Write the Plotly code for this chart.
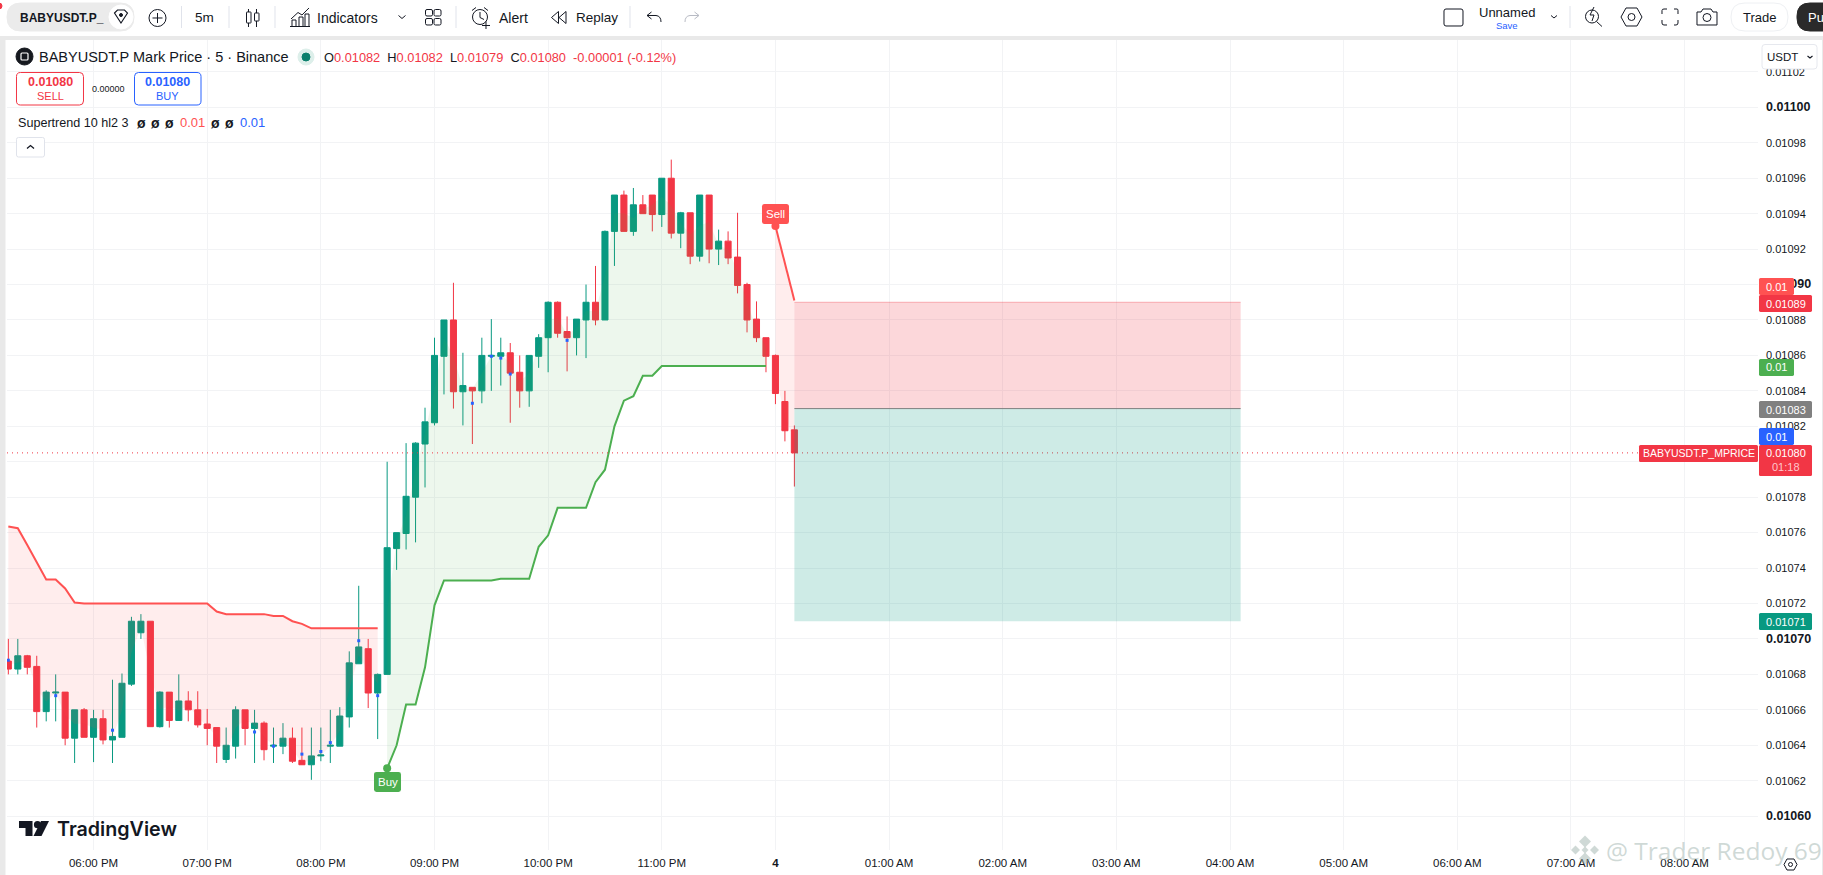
import pandas as pd
import numpy as np
import plotly.graph_objects as go

W = 1823
H = 875

RED = "#F23645"
TEAL = "#089981"
ST_RED = "#FF5252"
ST_GREEN = "#4CAF50"
BLUE = "#2962FF"
INK = "#131722"
GRID = "#F2F3F5"

# prices in units of 0.00001, 5 minute bars from 17:15
opens = [1068.75, 1068.3, 1069.05, 1068.45, 1065.9, 1066.95, 1067.0, 1064.4, 1066.0, 1064.45,
         1065.5, 1064.3, 1064.45, 1067.45, 1070.35, 1071.0, 1065.05, 1067.0, 1065.4, 1066.5,
         1066.0, 1065.2, 1065.0, 1063.2, 1063.95, 1066.0, 1064.95, 1065.25, 1063.95, 1063.95,
         1064.4, 1063.15, 1062.9, 1063.4, 1063.95, 1063.95, 1065.6, 1068.6, 1069.45, 1066.95,
         1068.0, 1075.1, 1075.95, 1078.0, 1081.0, 1082.2, 1085.95, 1088.0, 1083.95, 1084.2,
         1084.0, 1085.95, 1085.95, 1086.15, 1085.05, 1084.0, 1085.95, 1087.0, 1089.0, 1087.35,
         1087.0, 1088.0, 1089.0, 1088.0, 1093.0, 1095.05, 1093.0, 1094.5, 1095.05, 1093.95,
         1096.0, 1092.9, 1094.05, 1091.6, 1095.05, 1092.0, 1092.45, 1091.55, 1090.0, 1088.05,
         1087.0, 1086.0, 1083.4, 1081.8]
highs = [1070.0, 1070.0, 1069.1, 1069.05, 1067.1, 1068.0, 1067.0, 1066.0, 1066.1, 1066.0,
         1066.0, 1067.7, 1068.05, 1071.25, 1071.4, 1071.0, 1067.05, 1067.0, 1068.0, 1067.05,
         1067.05, 1066.05, 1065.0, 1065.0, 1066.2, 1066.0, 1066.0, 1065.35, 1065.0, 1065.25,
         1065.0, 1065.0, 1065.0, 1065.0, 1066.0, 1066.15, 1069.3, 1073.0, 1070.0, 1068.05,
         1080.0, 1076.0, 1081.05, 1081.1, 1083.05, 1087.0, 1088.0, 1090.1, 1086.15, 1084.2,
         1087.0, 1088.05, 1087.0, 1086.7, 1086.0, 1086.0, 1087.2, 1089.05, 1089.05, 1088.2,
         1088.05, 1090.0, 1091.05, 1093.05, 1095.05, 1095.3, 1095.45, 1095.05, 1095.05, 1096.0,
         1097.05, 1094.1, 1094.05, 1095.05, 1095.05, 1093.1, 1093.0, 1094.05, 1090.1, 1089.05,
         1087.0, 1086.05, 1084.0, 1082.05]
lows = [1068.0, 1068.0, 1068.0, 1065.0, 1065.35, 1065.35, 1064.0, 1063.0, 1064.45, 1063.05,
        1064.05, 1063.0, 1064.45, 1067.35, 1070.0, 1065.05, 1065.0, 1065.0, 1065.4, 1065.35,
        1065.0, 1064.0, 1063.0, 1063.0, 1063.25, 1064.0, 1063.0, 1063.15, 1063.0, 1063.5,
        1063.0, 1062.9, 1062.05, 1063.1, 1063.0, 1063.95, 1065.0, 1068.6, 1066.1, 1064.35,
        1068.0, 1073.9, 1075.05, 1075.45, 1078.55, 1082.05, 1083.8, 1083.0, 1082.05, 1081.0,
        1083.3, 1084.0, 1084.3, 1082.2, 1083.05, 1083.1, 1085.3, 1085.05, 1087.0, 1085.1,
        1086.0, 1085.85, 1087.7, 1088.0, 1091.05, 1093.0, 1092.75, 1094.0, 1093.0, 1093.25,
        1092.6, 1092.05, 1091.15, 1091.3, 1091.2, 1091.1, 1091.15, 1089.5, 1087.3, 1086.75,
        1085.05, 1083.25, 1081.15, 1078.6]
closes = [1068.3, 1069.05, 1068.4, 1065.9, 1067.0, 1067.0, 1064.4, 1066.0, 1064.45, 1065.5,
          1064.3, 1064.5, 1067.5, 1071.0, 1071.0, 1065.05, 1067.0, 1065.4, 1066.5, 1066.0,
          1065.15, 1064.95, 1063.95, 1064.0, 1066.0, 1064.95, 1065.25, 1063.75, 1064.0, 1064.4,
          1063.1, 1062.9, 1063.4, 1063.45, 1064.0, 1065.65, 1068.65, 1069.55, 1066.95, 1068.0,
          1075.15, 1076.0, 1078.05, 1081.05, 1082.25, 1086.0, 1088.0, 1083.95, 1084.3, 1084.0,
          1086.0, 1086.0, 1086.15, 1085.0, 1084.0, 1086.0, 1087.0, 1089.0, 1087.25, 1087.0,
          1088.05, 1089.0, 1088.0, 1093.0, 1095.05, 1093.0, 1094.5, 1094.0, 1093.95, 1096.0,
          1092.9, 1094.05, 1091.6, 1095.05, 1092.0, 1092.45, 1091.5, 1089.95, 1088.0, 1087.0,
          1085.95, 1083.85, 1081.75, 1080.5]

# supertrend, red on bars 0-39, green on 40-80, red again on 81-83
st_red_a = [1076.35, 1076.25, 1075.3, 1074.3, 1073.35, 1073.35, 1072.85, 1072.05, 1072.0, 1072.0,
            1072.0, 1072.0, 1072.0, 1072.0, 1072.0, 1072.0, 1072.0, 1072.0, 1072.0, 1072.0,
            1072.0, 1072.0, 1071.55, 1071.4, 1071.4, 1071.4, 1071.4, 1071.4, 1071.3, 1071.3,
            1071.0, 1070.85, 1070.6, 1070.6, 1070.6, 1070.6, 1070.6, 1070.6, 1070.6, 1070.6]
st_green = [1062.7, 1064.0, 1066.3, 1066.3, 1068.4, 1071.9, 1073.3, 1073.3, 1073.3, 1073.3,
            1073.3, 1073.3, 1073.4, 1073.4, 1073.4, 1073.4, 1075.2, 1075.85, 1077.4, 1077.4,
            1077.4, 1077.4, 1078.85, 1079.55, 1082.0, 1083.45, 1083.7, 1084.85, 1084.85, 1085.4,
            1085.4, 1085.4, 1085.4, 1085.4, 1085.4, 1085.4, 1085.4, 1085.4, 1085.4, 1085.4, 1085.4]
st_red_b = [1093.3, 1091.15, 1089.1]

dot_idx = [0, 5, 11, 26, 28, 31, 33, 34, 37, 39, 49, 51, 52, 53, 59]
dot_val = [1068.8, 1066.8, 1064.85, 1064.75, 1063.95, 1063.5, 1063.65, 1064.15, 1069.9, 1066.8,
           1083.3, 1085.95, 1085.85, 1084.95, 1086.85]

stop_price = 1089
entry_price = 1083
target_price = 1071
last_price = 1080.5

price_ticks = [1102, 1100, 1098, 1096, 1094, 1092, 1090, 1088, 1086, 1084, 1082, 1080, 1078, 1076,
               1074, 1072, 1070, 1068, 1066, 1064, 1062, 1060]
bold_ticks = [1100, 1090, 1070, 1060]
hour_labels = ["06:00 PM", "07:00 PM", "08:00 PM", "09:00 PM", "10:00 PM", "11:00 PM", "<b>4</b>",
               "01:00 AM", "02:00 AM", "03:00 AM", "04:00 AM", "05:00 AM", "06:00 AM", "07:00 AM",
               "08:00 AM"]

t0 = pd.Timestamp("2025-06-03 17:15")
times = pd.date_range(t0, periods=len(opens), freq="5min")
hours = pd.date_range("2025-06-03 18:00", periods=len(hour_labels), freq="60min")
mids = (np.array(opens) + np.array(closes)) / 2


def pr(a):
    return (np.array(a, dtype=float) / 1e5).tolist()


def tick_text(v):
    s = f"{v / 1e5:.5f}"
    if v in bold_ticks:
        return f"<span style='font-size:12.5px'><b>{s}</b></span>"
    return s


# helpers for the page chrome, everything in screen pixels
def fx(x):
    return x / W


def fy(y):
    return 1 - y / H


def to_paper(d):
    out = []
    is_x = True
    for t in d.split():
        if t.isalpha():
            out.append(t)
            is_x = True
        else:
            out.append(f"{fx(float(t)) if is_x else fy(float(t)):.5f}")
            is_x = not is_x
    return " ".join(out)


shapes = []
notes = []


def path(d, color=INK, fill=None, width=1.0):
    shapes.append(dict(type="path", xref="paper", yref="paper", path=to_paper(d), layer="above",
                       line=dict(color=color, width=width), fillcolor=fill or "rgba(0,0,0,0)"))


def rrect(x0, y0, x1, y1, r, color=INK, fill=None, width=1.0):
    d = (f"M {x0 + r} {y0} L {x1 - r} {y0} Q {x1} {y0} {x1} {y0 + r} L {x1} {y1 - r} Q {x1} {y1} {x1 - r} {y1} "
         f"L {x0 + r} {y1} Q {x0} {y1} {x0} {y1 - r} L {x0} {y0 + r} Q {x0} {y0} {x0 + r} {y0} Z")
    path(d, color, fill, width)


def circle(cx, cy, r, color=INK, fill=None, width=1.0):
    shapes.append(dict(type="circle", xref="paper", yref="paper", x0=fx(cx - r), x1=fx(cx + r),
                       y0=fy(cy - r), y1=fy(cy + r), layer="above",
                       line=dict(color=color, width=width), fillcolor=fill or "rgba(0,0,0,0)"))


def box(x0, y0, x1, y1, fill):
    shapes.append(dict(type="rect", xref="paper", yref="paper", x0=fx(x0), x1=fx(x1), y0=fy(y0), y1=fy(y1),
                       layer="above", line=dict(width=0), fillcolor=fill))


def txt(x, y, s, size=13, color=INK, anchor="left", font="Liberation Sans", weight=None):
    f = dict(size=size, color=color, family=font)
    if weight:
        f["weight"] = weight
    notes.append(dict(xref="paper", yref="paper", x=fx(x), y=fy(y), text=s, showarrow=False, xanchor=anchor,
                      yanchor="middle", font=f, borderpad=0, align=anchor))


def tag(x0, y0, x1, y1, fill, s, size=11):
    rrect(x0, y0, x1, y1, 1.5, fill, fill, 0)
    txt((x0 + x1) / 2, (y0 + y1) / 2, s, size, "white", "center")


def span(s, c=RED):
    return f"<span style='color:{c}'>{s}</span>"


# frame around the chart
box(0, 36, W, 40, "#E9E9E9")
box(0, 40, 5.5, H, "#E9E9E9")
box(1822, 40, W, H, "#E9E9E9")

# top toolbar
rrect(7, 3, 134, 31, 14, "#EBEBEB", "#EBEBEB")
txt(18.5, 17.5, "BABYUSDT.P_", 12, INK, weight=700)
circle(121, 17, 12, "white", "white")
path("M 114.5 13 L 117.5 10 L 124.5 10 L 127.5 13 L 121 23 Z", INK, None, 1.1)
circle(121, 15, 1.5, INK, INK)
circle(157.5, 18, 8.5, INK, None, 1.0)
path("M 152.5 18 L 162.5 18 M 157.5 13 L 157.5 23", INK)
for sx in [181.5, 229, 275, 456, 630, 1570]:
    path(f"M {sx} 6 L {sx} 28", "#E0E3EB")
txt(204.5, 17.5, "5m", 13.5, INK, "center")
path("M 248.5 9 L 248.5 27 M 256.5 9 L 256.5 27", INK)
rrect(246.5, 12, 251, 23, 0.5, INK, "white")
rrect(254.5, 13, 259, 21, 0.5, INK, "white")
path("M 291 19 L 298 12.5 L 302 15 L 309 8 M 292 26 L 292 20 L 296 20 L 296 26 M 299 26 L 299 17 L 303 17 L 303 26 "
     "M 305 26 L 305 14 L 309 14 L 309 26 M 290 26.5 L 310 26.5", INK)
txt(316, 17.5, "Indicators", 14, INK)
path("M 398.5 15.5 L 402 18.5 L 405.5 15.5", INK)
for gx in [425.5, 434]:
    for gy in [9.5, 18.5]:
        rrect(gx, gy, gx + 7, gy + 6.5, 1.5, INK)
circle(480, 17, 7.5, INK)
path("M 480 12 L 480 17.5 L 484 19.5 M 472 10.5 L 476 7.5 M 488 10.5 L 484 7.5 M 482 25.5 L 490 25.5 M 486 21.5 L 486 29", INK)
txt(498, 17.5, "Alert", 14, INK)
path("M 558.5 11.5 L 551.5 17.5 L 558.5 23.5 Z M 566 11.5 L 559 17.5 L 566 23.5 Z", INK)
txt(575, 17.5, "Replay", 13.5, INK)
path("M 651.5 12 L 647 15.5 L 651.5 19 M 647 15.5 L 656 15.5 Q 661 16 661 22", INK)
path("M 694.5 12 L 699 15.5 L 694.5 19 M 699 15.5 L 690 15.5 Q 685 16 685 22", "#B8BBC4")

rrect(1444, 9, 1463, 26, 2, INK)
txt(1507, 12.5, "Unnamed", 13, INK, "center")
txt(1506.5, 26, "Save", 9.5, BLUE, "center")
path("M 1551 15.5 L 1554 18 L 1557 15.5", INK)
circle(1592, 16.5, 6.5, INK)
path("M 1596.5 21.5 L 1602 26.5 M 1594 7 L 1590 15 L 1594 15 L 1592 21", INK)
path("M 1621 17 L 1626 8 L 1637 8 L 1642 17 L 1637 26 L 1626 26 Z", INK)
circle(1631.5, 17, 3.5, INK)
path("M 1662 14 L 1662 10.5 Q 1662 9 1664 9 L 1667 9 M 1674 9 L 1677 9 Q 1678 9 1678 10.5 L 1678 14 "
     "M 1678 20 L 1678 23 Q 1678 25 1676 25 L 1674 25 M 1667 25 L 1664 25 Q 1662 25 1662 23 L 1662 20", INK)
path("M 1697 12 L 1701 12 L 1703 9 L 1711 9 L 1713 12 L 1717 12 L 1717 25 L 1697 25 Z", INK)
circle(1707, 17.5, 4, INK)
rrect(1731, 3, 1788, 31, 14, "#EEF0F3", "white")
txt(1759.5, 17.5, "Trade", 13, INK, "center")
rrect(1797, 3, 1840, 31, 13, "#2A2A2A", "#2A2A2A")
txt(1807, 17.5, "Pu", 13, "white")
circle(-1, 6, 3, RED, RED)

# legend block top left
circle(24.5, 56.5, 8.5, "#16191F", "#16191F")
rrect(21, 53, 28, 60, 1, "white", None, 1.2)
txt(37.5, 57, "BABYUSDT.P Mark Price · 5 · Binance", 14.5)
circle(306, 57, 8, "#DDEFEA", "#DDEFEA")
circle(306, 57, 4, "#0A7F6C", "#0A7F6C")
txt(323, 57, "O" + span("0.01082") + "  H" + span("0.01082") + "  L" + span("0.01079") + "  C" + span("0.01080")
    + "  " + span("-0.00001 (-0.12%)"), 12.8)
rrect(16.5, 72.5, 83.5, 105, 4, RED, "white")
txt(50, 82, "0.01080", 12.5, RED, "center", weight=700)
txt(50, 96, "SELL", 11, RED, "center")
txt(108.5, 88.5, "0.00000", 9, INK, "center")
rrect(134.5, 72.5, 201, 105, 4, BLUE, "white")
txt(167.5, 82, "0.01080", 12.5, BLUE, "center", weight=700)
txt(167.5, 96, "BUY", 11, BLUE, "center")
txt(16.5, 122.5, "Supertrend 10 hl2 3", 12.6)
for sx in [141, 155, 169, 215.5, 229]:
    txt(sx, 122.5, "ø", 14, INK, "center", weight=700)
txt(178.5, 122.5, "0.01", 13, ST_RED)
txt(239, 122.5, "0.01", 13, BLUE)
rrect(16.5, 137.5, 44.5, 157, 2, "#E0E3EB", "white")
path("M 27 148.5 L 30.5 145.5 L 34 148.5", INK, None, 1.3)

# price axis overlays
rrect(1762, 44.5, 1817, 69, 3, "#E6E8EE", "white")
txt(1766, 57, "USDT", 11.5)
path("M 1807.5 56 L 1810 58 L 1812.5 56", INK, None, 1.1)
tag(1759, 278, 1794, 295, ST_RED, "0.01")
tag(1759, 295, 1812, 312, RED, "0.01089")
tag(1759, 359, 1794, 376, ST_GREEN, "0.01")
tag(1759, 401, 1812, 418, "#808080", "0.01083")
tag(1759, 428, 1794, 445, BLUE, "0.01")
rrect(1759, 445, 1812, 476, 1.5, RED, RED, 0)
txt(1785.5, 453.5, "0.01080", 11, "white", "center")
txt(1785.5, 467.5, "01:18", 11, "#FFC6CB", "center")
tag(1639, 445, 1758, 462, RED, "BABYUSDT.P_MPRICE", 10.5)
tag(1759, 613, 1812, 630, TEAL, "0.01071")

# buy and sell flags
rrect(374, 772, 401, 792, 2.5, ST_GREEN, ST_GREEN, 0)
txt(387.5, 782, "Buy", 11.5, "white", "center")
rrect(762, 204, 789, 224, 2.5, ST_RED, ST_RED, 0)
txt(775.5, 214, "Sell", 11.5, "white", "center")

# tradingview logo
path("M 19 821 L 32.5 821 L 32.5 836 L 25.5 836 L 25.5 828 L 19 828 Z", INK, INK, 0)
circle(37.5, 824.7, 3.6, INK, INK, 0)
path("M 49 821 L 41.5 836 L 33.5 836 L 41 821 Z", INK, INK, 0)
txt(55.5, 829, "TradingView", 19.7, INK, font="Inter", weight=600)

# watermark and settings button
WM = "rgba(160,180,174,0.5)"
for dx, dy, s in [(0, -8.5, 6), (-9.5, 0, 4.5), (9.5, 0, 4.5), (0, 8.5, 6), (0, 0, 3.5)]:
    path(f"M {1585 + dx} {850 + dy - s} L {1585 + dx + s} {850 + dy} L {1585 + dx} {850 + dy + s} L {1585 + dx - s} {850 + dy} Z",
         WM, WM, 0)
txt(1605, 850, "@ Trader Redoy 69", 24.5, WM, font="Open Sans")
path("M 1784 864.5 L 1787 859 L 1794 859 L 1797 864.5 L 1794 870 L 1787 870 Z", INK)
circle(1790.5, 864.5, 2, INK)

# trade position tool and last price line, these sit on the price scale
pos_start = times[83]
pos_end = t0 + pd.Timedelta(minutes=650.6)
for top, bot, col in [(stop_price, entry_price, "rgba(242,54,69,0.2)"), (entry_price, target_price, "rgba(8,153,129,0.2)")]:
    shapes.append(dict(type="rect", x0=pos_start, x1=pos_end, y0=top / 1e5, y1=bot / 1e5, xref="x", yref="y",
                       layer="above", fillcolor=col, line=dict(width=0)))
shapes.append(dict(type="line", x0=pos_start, x1=pos_end, y0=entry_price / 1e5, y1=entry_price / 1e5, xref="x", yref="y",
                   layer="above", line=dict(color="#808080", width=1)))
shapes.append(dict(type="line", x0=pos_start, x1=pos_end, y0=stop_price / 1e5, y1=stop_price / 1e5, xref="x", yref="y",
                   layer="above", line=dict(color="rgba(242,54,69,0.35)", width=1)))
shapes.insert(0, dict(type="line", x0=0, x1=1, y0=last_price / 1e5, y1=last_price / 1e5, xref="x domain", yref="y",
                      layer="above", line=dict(color=RED, width=1, dash="1px,4px")))

fig = go.Figure()


def band(idx0, line_vals, color, fill):
    n = len(line_vals)
    x = times[idx0:idx0 + n]
    fig.add_trace(go.Scatter(x=x, y=pr(mids[idx0:idx0 + n]), mode="lines", line=dict(width=0), hoverinfo="skip"))
    fig.add_trace(go.Scatter(x=x, y=pr(line_vals), mode="lines", line=dict(color=color, width=2),
                             fill="tonexty", fillcolor=fill, hoverinfo="skip"))


band(0, st_red_a, ST_RED, "rgba(255,82,82,0.1)")
band(40, st_green, ST_GREEN, "rgba(76,175,80,0.1)")
band(81, st_red_b, ST_RED, "rgba(255,82,82,0.1)")

fig.add_trace(go.Candlestick(
    x=times, open=pr(opens), high=pr(highs), low=pr(lows), close=pr(closes), whiskerwidth=0,
    increasing=dict(line=dict(color=TEAL, width=1), fillcolor=TEAL),
    decreasing=dict(line=dict(color=RED, width=1), fillcolor=RED),
))
fig.add_trace(go.Scatter(x=times[dot_idx], y=pr(dot_val), mode="markers",
                         marker=dict(symbol="square", size=3, color=BLUE), hoverinfo="skip"))
fig.add_trace(go.Scatter(x=[times[40], times[81]], y=pr([st_green[0], st_red_b[0]]), mode="markers",
                         marker=dict(size=8, color=[ST_GREEN, ST_RED]), hoverinfo="skip"))

fig.update_layout(
    width=W, height=H,
    margin=dict(l=0, r=0, t=0, b=0),
    paper_bgcolor="white", plot_bgcolor="white",
    showlegend=False,
    boxgap=0.36, boxgroupgap=0,
    font=dict(family="Liberation Sans", size=11.5, color=INK),
    shapes=shapes, annotations=notes,
    xaxis=dict(
        type="date", domain=[7 / W, 1758 / W], anchor="y",
        range=[t0 + pd.Timedelta(minutes=-0.7), t0 + pd.Timedelta(minutes=923.75)],
        rangeslider=dict(visible=False),
        tickmode="array", tickvals=hours, ticktext=hour_labels, ticklabelstandoff=4,
        showgrid=True, gridcolor=GRID, gridwidth=1, zeroline=False, showline=False, ticks="",
        tickfont=dict(size=11.5, color=INK), tickangle=0,
    ),
    yaxis=dict(
        side="right", domain=[(H - 850) / H, (H - 40) / H], anchor="x",
        range=[1058.09 / 1e5, 1103.8 / 1e5],
        tickmode="array", tickvals=pr(price_ticks), ticktext=[tick_text(v) for v in price_ticks],
        ticklabelstandoff=7,
        showgrid=True, gridcolor=GRID, gridwidth=1, zeroline=False, showline=False, ticks="",
        tickfont=dict(size=11, color=INK),
    ),
)

fig.write_html("out.html", config={"displayModeBar": False},
               post_script="document.body.style.margin='0';document.body.style.overflow='hidden';")
